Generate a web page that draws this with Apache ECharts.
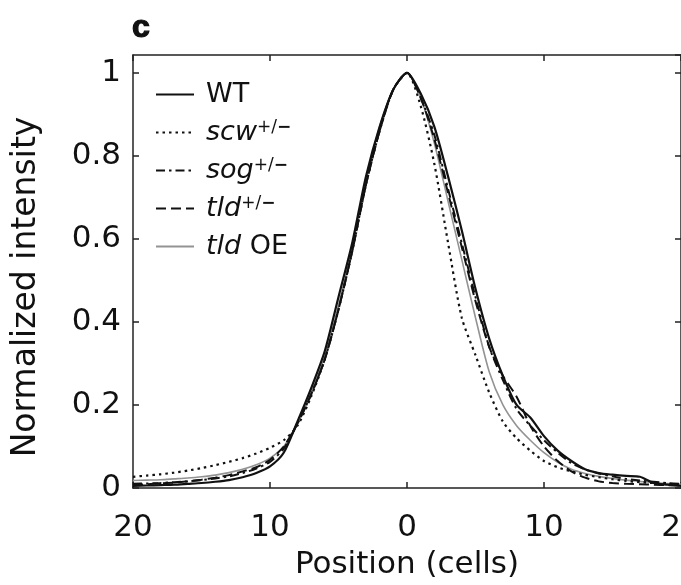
<!DOCTYPE html>
<html><head><meta charset="utf-8">
<script src="https://cdn.jsdelivr.net/npm/echarts@6/dist/echarts.min.js"></script>
<style>html,body{margin:0;padding:0;background:#fff;overflow:hidden}#c{width:681px;height:585px}</style>
</head><body><div id="c"></div>
<script>
// Position in cells
const positions = [-20,-19,-18,-17,-16,-15,-14,-13,-12,-11,-10,-9,-8,-7,-6,-5,-4,-3,-2,-1,0,1,2,3,4,5,6,7,8,9,10,11,12,13,14,15,16,17,18,19,20];
// Normalized intensity per genotype
const wt   = [0.005,0.006,0.007,0.008,0.010,0.012,0.015,0.019,0.026,0.036,0.052,0.085,0.16,0.24,0.33,0.46,0.59,0.75,0.87,0.96,1.0,0.95,0.87,0.75,0.62,0.48,0.36,0.27,0.20,0.17,0.125,0.09,0.065,0.045,0.036,0.032,0.029,0.027,0.012,0.008,0.005];
const scw  = [0.027,0.030,0.033,0.037,0.042,0.048,0.055,0.063,0.072,0.083,0.097,0.115,0.15,0.22,0.31,0.43,0.57,0.73,0.86,0.96,1.0,0.92,0.78,0.59,0.41,0.32,0.23,0.16,0.12,0.09,0.065,0.05,0.04,0.032,0.026,0.021,0.017,0.014,0.012,0.010,0.008];
const sog  = [0.010,0.011,0.012,0.014,0.016,0.019,0.023,0.028,0.036,0.047,0.063,0.095,0.155,0.225,0.31,0.43,0.57,0.73,0.86,0.96,1.0,0.94,0.85,0.72,0.59,0.46,0.34,0.26,0.19,0.15,0.115,0.085,0.06,0.045,0.035,0.028,0.022,0.018,0.015,0.012,0.010];
const tld  = [0.008,0.009,0.011,0.013,0.016,0.020,0.025,0.031,0.040,0.050,0.068,0.10,0.155,0.225,0.31,0.43,0.57,0.73,0.86,0.96,1.0,0.94,0.84,0.71,0.58,0.45,0.34,0.27,0.22,0.15,0.10,0.065,0.04,0.025,0.016,0.012,0.010,0.009,0.008,0.007,0.006];
const tldOE= [0.018,0.019,0.020,0.022,0.024,0.027,0.031,0.037,0.045,0.056,0.072,0.10,0.155,0.23,0.32,0.44,0.58,0.74,0.87,0.96,1.0,0.94,0.83,0.69,0.55,0.41,0.28,0.20,0.15,0.115,0.085,0.062,0.045,0.035,0.028,0.023,0.019,0.016,0.013,0.011,0.009];

const seriesNames = ['WT','scw','sog','tld','tldOE'];
const legendLabels = ['WT','{it|scw}{sup|+/}{supb|−}','{it|sog}{sup|+/}{supb|−}','{it|tld}{sup|+/}{supb|−}','{it|tld} OE'];

const xTickValues = [-20,-10,0,10,20];
const xTickLabels = ['20','10','0','10','20'];
const yTickValues = [0,0.2,0.4,0.6,0.8,1];
const yTickLabels = ['0','0.2','0.4','0.6','0.8','1'];

function pairs(arr){ return positions.map((p,i)=>[p,arr[i]]); }
function fmt(vals,labels){ return v => { const i = vals.findIndex(t=>Math.abs(t-v)<1e-9); return i<0?'':labels[i]; }; }

const FONT = 'DejaVu Sans';
const axisCol = '#222';
const chart = echarts.init(document.getElementById('c'), null, {renderer:'canvas'});
const mk = (name, data, color, width, type, z) => ({
  name, type:'line', data:pairs(data), symbol:'none', smooth:0.25, z,
  lineStyle:{color, width, type}, itemStyle:{color}, emphasis:{disabled:true}, silent:true, animation:false
});
const baseAxis = {
  axisLine:{show:true, onZero:false, lineStyle:{color:axisCol, width:1.5}},
  axisTick:{show:true, inside:true, length:6, lineStyle:{color:axisCol, width:1.5}},
  splitLine:{show:false}
};
chart.setOption({
  animation:false,
  title:{text:'c', left:127, top:7, textStyle:{fontFamily:'Liberation Sans', fontWeight:'bold', fontSize:32, color:'#111', textBorderColor:'#111', textBorderWidth:1.2}},
  grid:{left:133, top:55, width:548, height:433, containLabel:false, outerBoundsMode:'none'},
  legend:{
    data:seriesNames, orient:'vertical', left:150, top:76, itemWidth:38, itemHeight:14, itemGap:11,
    itemStyle:{opacity:0},
    formatter: n => legendLabels[seriesNames.indexOf(n)],
    textStyle:{fontFamily:FONT, fontSize:27, color:'#111', padding:[0,0,0,7],
      rich:{
        it:{fontFamily:FONT, fontStyle:'italic', fontSize:27, color:'#111'},
        sup:{fontFamily:FONT, fontSize:17, color:'#111', verticalAlign:'top'},
        supb:{fontFamily:FONT, fontSize:17, fontWeight:'bold', color:'#111', verticalAlign:'top'}
      }},
    selectedMode:false
  },
  xAxis:[Object.assign({}, baseAxis, {
    type:'value', min:-20, max:20, interval:10, position:'bottom',
    axisLabel:{margin:24, fontFamily:FONT, fontSize:31, color:'#111', formatter:fmt(xTickValues,xTickLabels)},
    name:'Position (cells)', nameLocation:'middle', nameGap:61,
    nameTextStyle:{fontFamily:FONT, fontSize:31, color:'#111'}
  }), Object.assign({}, baseAxis, {
    type:'value', min:-20, max:20, interval:10, position:'top',
    axisLabel:{show:false}
  })],
  yAxis:[Object.assign({}, baseAxis, {
    type:'value', min:0, max:1.043, interval:0.2, position:'left',
    axisLabel:{margin:12, fontFamily:FONT, fontSize:31, color:'#111', formatter:fmt(yTickValues,yTickLabels), showMaxLabel:false},
    name:'Normalized intensity', nameLocation:'middle', nameGap:90,
    nameTextStyle:{fontFamily:FONT, fontSize:33, color:'#111', padding:[0,31,0,0]}
  }), Object.assign({}, baseAxis, {
    type:'value', min:0, max:1.043, interval:0.2, position:'right',
    axisLabel:{show:false}
  })],
  series:[
    mk('tldOE', tldOE, '#939393', 1.6, 'solid', 1),
    mk('scw', scw, '#111', 2.2, [2.5,4], 2),
    mk('sog', sog, '#111', 2.0, [9,4,2.5,4], 3),
    mk('tld', tld, '#111', 2.0, [10,5], 4),
    mk('WT', wt, '#111', 2.2, 'solid', 5)
  ]
});
</script></body></html>
